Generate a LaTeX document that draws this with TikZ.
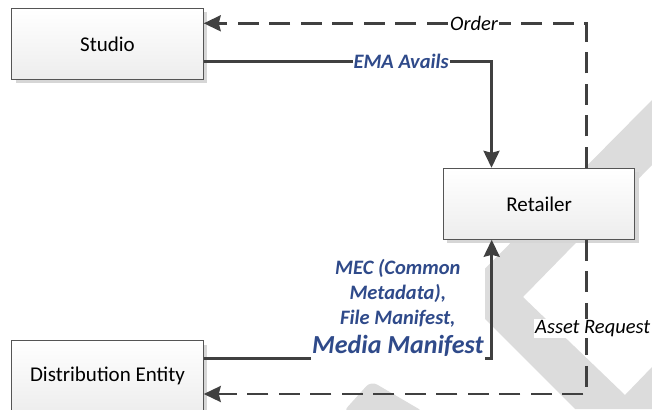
\documentclass[tikz,border=0pt]{standalone}
\usepackage{fontspec}
\setmainfont{Carlito}
\usetikzlibrary{arrows.meta,shadows}
\definecolor{lineC}{HTML}{404040}
\definecolor{boxB}{HTML}{555555}
\definecolor{labB}{HTML}{2F4A8A}
\definecolor{wm}{HTML}{DCDCDC}
\definecolor{shad}{HTML}{D6D6D6}
\begin{document}
\begin{tikzpicture}[x=1pt,y=-1pt,
  entity/.style={draw=boxB, line width=1pt, top color=white, bottom color=black!7,
    minimum width=191.5pt, minimum height=71pt, inner sep=0pt,
    drop shadow={shadow xshift=4pt, shadow yshift=-4pt, fill=shad, opacity=1},
    font=\fontsize{21}{25}\selectfont},
  flow/.style={draw=lineC, line width=2.6pt, -{Stealth[length=17pt,width=16pt,inset=2pt]}},
  dashflow/.style={flow, dash pattern=on 21pt off 10.5pt},
  blab/.style={fill=white, text=labB, font=\fontsize{20.5}{25}\selectfont\bfseries\itshape, inner sep=1pt},
  klab/.style={fill=white, text=black, font=\fontsize{20.5}{25}\selectfont\itshape, inner sep=1pt},
]
\useasboundingbox (0,0) rectangle (652,409);
% watermark
\fill[wm] (652,100) -- (460,294) -- (575,409) -- (652,409) -- (652,367) -- (625,395) -- (523,297) -- (652,165) -- cycle;
\fill[wm, rounded corners=7pt] (343,412) -- (371,381) -- (424,412) -- cycle;
% entities
\node[entity] (studio) at (107.5,43.8) {Studio};
\node[entity] (retailer) at (539.2,203.8) {Retailer};
\node[entity] (dist) at (107.5,376.2) {Distribution Entity};
% connectors
\draw[dashflow] ([xshift=47.5pt]retailer.north) |- node[klab, pos=0.647] {Order} ([yshift=20.5pt]studio.east);
\draw[flow] ([yshift=-17.5pt]studio.east) -| node[blab, pos=0.343] {EMA Avails} ([xshift=-47.7pt]retailer.north);
\draw[dashflow] ([xshift=47.5pt]retailer.south) |- node[klab, pos=0.287, xshift=6pt] {Asset Request} ([yshift=-17.8pt]dist.east);
\draw[flow] ([yshift=17.9pt]dist.east) -| node[blab, pos=0.337, anchor=south, yshift=-2.7pt, text depth=5pt, align=center]
  {MEC (Common\\ Metadata),\\ File Manifest,\\[4pt] {\fontsize{26}{30}\selectfont Media Manifest}} ([xshift=-47.5pt]retailer.south);
\end{tikzpicture}
\end{document}
